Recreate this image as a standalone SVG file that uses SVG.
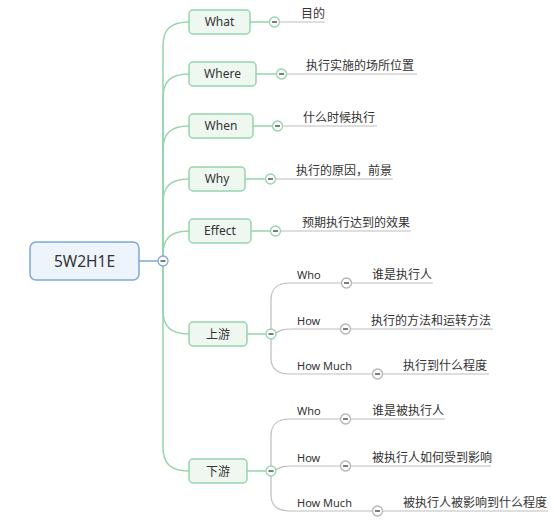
<svg xmlns="http://www.w3.org/2000/svg" width="554" height="521" viewBox="0 0 554 521">
<style>
text{font-family:"Noto Sans","Noto Sans CJK SC",sans-serif;fill:#333}
.root{fill:#EEF4FC;stroke:#7FA7D8;stroke-width:1.5}
.n1{fill:#EFF7F1;stroke:#96D5AA;stroke-width:1.5}
.g{fill:none;stroke:#96D5AA;stroke-width:1.5}
.b{fill:none;stroke:#7FA7D8;stroke-width:1.5}
.gr{fill:none;stroke:#BDBDBD;stroke-width:1.2}
.cg{fill:#fff;stroke:#96D5AA;stroke-width:1.3}
.cb{fill:#fff;stroke:#7FA7D8;stroke-width:1.3}
.cy{fill:#fff;stroke:#B5B5B5;stroke-width:1.3}
.m{stroke:#444;stroke-width:1.4}
.t1{font-size:12px;text-anchor:middle}
.t2{font-size:12px}
.t3{font-size:11px}
</style>
<g id="connectors">
<line class="b" x1="139" y1="261" x2="158" y2="261"/>
<path class="g" d="M163,261 L163,46 C163,30 170,22 189,22"/>
<path class="g" d="M163,261 L163,98 C163,82 170,74 189,74"/>
<path class="g" d="M163,261 L163,150 C163,134 170,126 189,126"/>
<path class="g" d="M163,261 L163,203 C163,187 170,179 189,179"/>
<path class="g" d="M163,261 L163,255 C163,239 170,231 189,231"/>
<path class="g" d="M163,266 L163,310 C163,326 170,334 189,334"/>
<path class="g" d="M163,266 L163,447 C163,463 170,471 189,471"/>
<line class="g" x1="250" y1="22" x2="269" y2="22"/>
<line class="g" x1="256" y1="74" x2="276" y2="74"/>
<line class="g" x1="253" y1="126" x2="272" y2="126"/>
<line class="g" x1="245" y1="179" x2="265" y2="179"/>
<line class="g" x1="251" y1="231" x2="270" y2="231"/>
<line class="g" x1="247" y1="334" x2="266" y2="334"/>
<line class="g" x1="247" y1="471" x2="266" y2="471"/>
<line class="gr" x1="280" y1="22" x2="325" y2="22"/>
<line class="gr" x1="287" y1="74" x2="417" y2="74"/>
<line class="gr" x1="283" y1="126" x2="377" y2="126"/>
<line class="gr" x1="276" y1="179" x2="393" y2="179"/>
<line class="gr" x1="281" y1="231" x2="411" y2="231"/>
<path class="gr" d="M271,329 L271,300 C271,288 277,283 290,283 L341,283"/>
<path class="gr" d="M276,333 C280,330 283,329 292,329 L340,329"/>
<path class="gr" d="M271,339 L271,358 C271,369 277,374 290,374 L372,374"/>
<line class="gr" x1="352" y1="283" x2="433" y2="283"/>
<line class="gr" x1="351" y1="329" x2="493" y2="329"/>
<line class="gr" x1="383" y1="374" x2="489" y2="374"/>
<path class="gr" d="M271,466 L271,436 C271,424 277,419 290,419 L340,419"/>
<path class="gr" d="M276,470 C280,467 283,466 292,466 L340,466"/>
<path class="gr" d="M271,476 L271,495 C271,506 277,511 290,511 L372,511"/>
<line class="gr" x1="351" y1="419" x2="445" y2="419"/>
<line class="gr" x1="351" y1="466" x2="491" y2="466"/>
<line class="gr" x1="383" y1="511" x2="548" y2="511"/>
</g>
<g id="root">
<rect class="root" x="30" y="242" width="109" height="38" rx="6"/>
<text x="84.5" y="266.5" style="font-size:15.5px;text-anchor:middle">5W2H1E</text>
<circle class="cb" cx="163" cy="261" r="5"/><line class="m" x1="160.5" y1="261" x2="165.5" y2="261"/>
</g>
<g id="what">
<rect class="n1" x="189" y="10" width="61" height="24" rx="4"/>
<text class="t1" x="219.5" y="26.3">What</text>
<circle class="cg" cx="274.5" cy="22" r="5"/><line class="m" x1="272" y1="22" x2="277" y2="22"/>
<text class="t2" x="301" y="18">目的</text>
</g>
<g id="where">
<rect class="n1" x="189" y="62" width="67" height="24" rx="4"/>
<text class="t1" x="222.5" y="78.3">Where</text>
<circle class="cg" cx="281.5" cy="74" r="5"/><line class="m" x1="279" y1="74" x2="284" y2="74"/>
<text class="t2" x="306" y="70">执行实施的场所位置</text>
</g>
<g id="when">
<rect class="n1" x="189" y="114" width="64" height="24" rx="4"/>
<text class="t1" x="221" y="130.3">When</text>
<circle class="cg" cx="277.5" cy="126" r="5"/><line class="m" x1="275" y1="126" x2="280" y2="126"/>
<text class="t2" x="303" y="122">什么时候执行</text>
</g>
<g id="why">
<rect class="n1" x="189" y="167" width="56" height="24" rx="4"/>
<text class="t1" x="217" y="183.3">Why</text>
<circle class="cg" cx="270.5" cy="179" r="5"/><line class="m" x1="268" y1="179" x2="273" y2="179"/>
<text class="t2" x="296" y="175">执行的原因，前景</text>
</g>
<g id="effect">
<rect class="n1" x="189" y="219" width="62" height="24" rx="4"/>
<text class="t1" x="220" y="235.3">Effect</text>
<circle class="cg" cx="275.5" cy="231" r="5"/><line class="m" x1="273" y1="231" x2="278" y2="231"/>
<text class="t2" x="302" y="227">预期执行达到的效果</text>
</g>
<g id="upstream">
<rect class="n1" x="189" y="322" width="58" height="24" rx="4"/>
<text class="t1" x="218" y="338.5">上游</text>
<circle class="cg" cx="271" cy="334" r="5"/><line class="m" x1="268.5" y1="334" x2="273.5" y2="334"/>
</g>
<g id="up-who">
<text class="t3" x="297" y="279">Who</text>
<circle class="cy" cx="346.5" cy="283" r="5"/><line class="m" x1="344" y1="283" x2="349" y2="283"/>
<text class="t2" x="372" y="279">谁是执行人</text>
</g>
<g id="up-how">
<text class="t3" x="297" y="325">How</text>
<circle class="cy" cx="345.5" cy="329" r="5"/><line class="m" x1="343" y1="329" x2="348" y2="329"/>
<text class="t2" x="371" y="325">执行的方法和运转方法</text>
</g>
<g id="up-howmuch">
<text class="t3" x="297" y="370">How Much</text>
<circle class="cy" cx="377.5" cy="374" r="5"/><line class="m" x1="375" y1="374" x2="380" y2="374"/>
<text class="t2" x="403" y="370">执行到什么程度</text>
</g>
<g id="downstream">
<rect class="n1" x="189" y="459" width="58" height="24" rx="4"/>
<text class="t1" x="218" y="475.5">下游</text>
<circle class="cg" cx="271" cy="471" r="5"/><line class="m" x1="268.5" y1="471" x2="273.5" y2="471"/>
</g>
<g id="down-who">
<text class="t3" x="297" y="415">Who</text>
<circle class="cy" cx="345.5" cy="419" r="5"/><line class="m" x1="343" y1="419" x2="348" y2="419"/>
<text class="t2" x="372" y="415">谁是被执行人</text>
</g>
<g id="down-how">
<text class="t3" x="297" y="462">How</text>
<circle class="cy" cx="345.5" cy="466" r="5"/><line class="m" x1="343" y1="466" x2="348" y2="466"/>
<text class="t2" x="372" y="462">被执行人如何受到影响</text>
</g>
<g id="down-howmuch">
<text class="t3" x="297" y="507">How Much</text>
<circle class="cy" cx="377.5" cy="511" r="5"/><line class="m" x1="375" y1="511" x2="380" y2="511"/>
<text class="t2" x="403" y="507">被执行人被影响到什么程度</text>
</g>
</svg>
